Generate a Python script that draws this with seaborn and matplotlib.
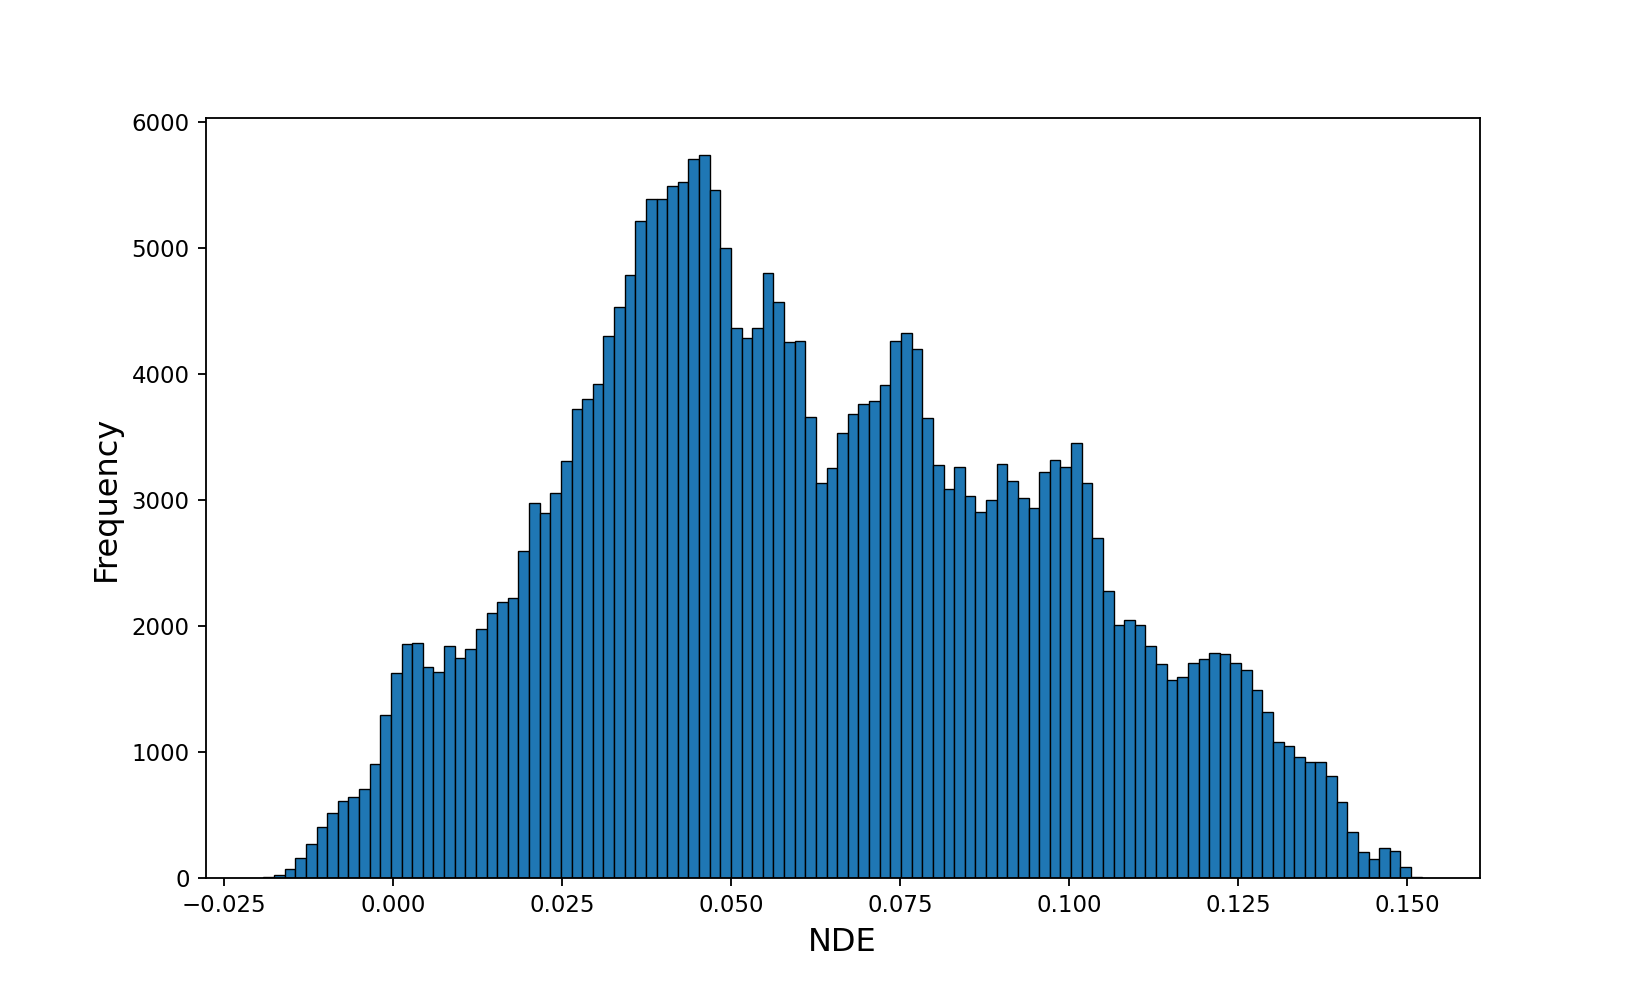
import numpy as np
import pandas as pd
import seaborn as sns
import matplotlib
matplotlib.use("Agg")
import matplotlib.pyplot as plt

# Bin range (109 equal-width bins)
X_MIN = -0.0192
X_MAX = 0.1522
N_BINS = 109

# Counts per bin, left to right
counts_a = [12, 28, 72, 164, 276, 412, 516, 616, 648, 708, 908, 1296, 1632, 1864, 1872,
            1676, 1636, 1848, 1748, 1824, 1976, 2104, 2192, 2228, 2596, 2976, 2896, 3056,
            3316, 3724, 3804, 3924, 4308, 4532]
counts_b = [4788, 5216, 5388, 5392, 5496, 5524, 5708, 5744, 5464, 5004, 4364, 4288, 4368,
            4804, 4576, 4260, 4264, 3664, 3136, 3256]
counts_c = [3536, 3684, 3764, 3792, 3912, 4264, 4328, 4200, 3652, 3280, 3088, 3268, 3036,
            2908, 3004, 3292, 3152, 3016, 2936, 3228]
counts_d = [3320, 3268, 3456, 3136, 2700, 2284, 2008, 2052, 2012, 1848, 1700, 1572, 1600,
            1708, 1744, 1792, 1784, 1712, 1652]
counts_e = [1496, 1324, 1084, 1048, 960, 924, 920, 812, 604, 368, 212, 152, 240, 216, 88, 12]

counts = counts_a + counts_b + counts_c + counts_d + counts_e
edges = np.linspace(X_MIN, X_MAX, N_BINS + 1)
centers = (edges[:-1] + edges[1:]) / 2

df = pd.DataFrame({"NDE": centers, "count": counts})

fig, ax = plt.subplots(figsize=(10, 6.004), dpi=164.4)
# seaborn compares bins with "auto", so hand it a plain list
sns.histplot(data=df, x="NDE", weights="count", bins=list(edges), ax=ax,
             color="#1f77b4", alpha=1.0, edgecolor="black", linewidth=0.6)

ax.set_xlabel("NDE", fontsize=14)
ax.set_ylabel("Frequency", fontsize=14)
ax.set_xlim(X_MIN - 0.05 * (X_MAX - X_MIN), X_MAX + 0.05 * (X_MAX - X_MIN))

plt.savefig("out.png", dpi=164.4)
